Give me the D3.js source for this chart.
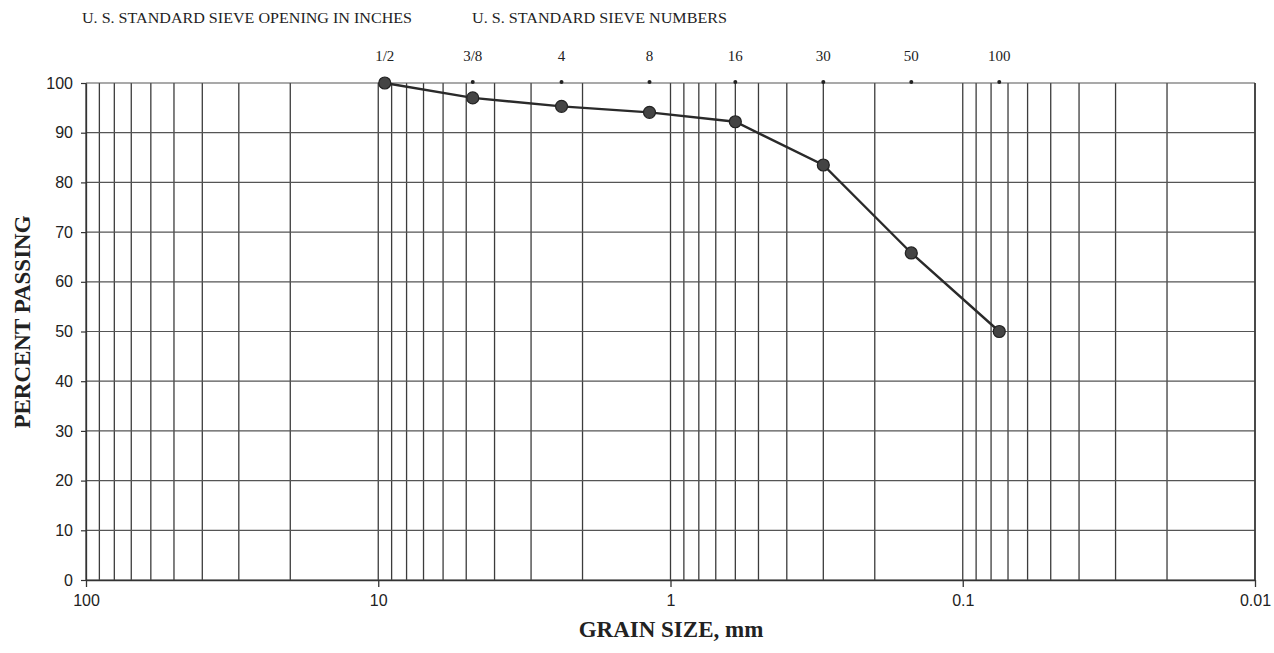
<!DOCTYPE html>
<html>
<head>
<meta charset="utf-8">
<script src="https://cdn.jsdelivr.net/npm/d3@7"></script>
<style>
  html, body { margin: 0; padding: 0; background: #fff; }
  svg { display: block; }
</style>
</head>
<body>
<svg id="chart" width="1274" height="653"></svg>
<script>
// ---- data ----
const grainSizes = [9.5, 4.75, 2.36, 1.18, 0.6, 0.3, 0.15, 0.075];   // mm
const percentPassing = [100, 97, 95.3, 94.1, 92.2, 83.5, 65.8, 50];
const sieveLabels = ["1/2", "3/8", "4", "8", "16", "30", "50", "100"];
const sieveMarkSizes = [4.75, 2.36, 1.18, 0.6, 0.3, 0.15, 0.075];
const xTickValues = [100, 10, 1, 0.1, 0.01];
const xTickLabels = ["100", "10", "1", "0.1", "0.01"];
const yTickValues = [0, 10, 20, 30, 40, 50, 60, 70, 80, 90, 100];

const svg = d3.select("#chart");
const x = d3.scaleLog().domain([100, 0.01]).range([86, 1255]);
const y = d3.scaleLinear().domain([0, 100]).range([580, 83]);

const gridColor = "#3c3c3c";
const serif = "'Liberation Serif', 'Times New Roman', serif";
const sans = "'Liberation Sans', Arial, sans-serif";

// vertical log grid
svg.append("g").selectAll("line")
  .data(x.ticks())
  .join("line")
  .attr("x1", d => x(d)).attr("x2", d => x(d))
  .attr("y1", y(100)).attr("y2", y(0))
  .attr("stroke", gridColor).attr("stroke-width", 1.3);

// horizontal grid
svg.append("g").selectAll("line")
  .data(yTickValues)
  .join("line")
  .attr("x1", x(100)).attr("x2", x(0.01))
  .attr("y1", d => y(d)).attr("y2", d => y(d))
  .attr("stroke", "#555").attr("stroke-width", 1.2);

// x axis
const xAxis = svg.append("g")
  .attr("transform", `translate(0,${y(0)})`)
  .call(d3.axisBottom(x).tickValues(xTickValues)
    .tickFormat((d, i) => xTickLabels[i]).tickSize(7).tickSizeOuter(0));
xAxis.select(".domain").attr("stroke", "#333").attr("stroke-width", 1.3);
xAxis.selectAll(".tick line").attr("stroke", "#333").attr("stroke-width", 1.3);
xAxis.selectAll("text").attr("font-family", sans).attr("font-size", 16)
  .attr("fill", "#222").attr("y", 15).attr("dy", "0.71em");

// y axis
const yAxis = svg.append("g")
  .attr("transform", `translate(${x(100)},0)`)
  .call(d3.axisLeft(y).tickValues(yTickValues).tickSize(5).tickSizeOuter(0));
yAxis.select(".domain").attr("stroke", "#333").attr("stroke-width", 1.3);
yAxis.selectAll(".tick line").attr("stroke", "#333").attr("stroke-width", 1.2);
yAxis.selectAll("text").attr("font-family", sans).attr("font-size", 16)
  .attr("fill", "#222").attr("x", -13);

// header texts
svg.append("text").attr("x", 82).attr("y", 23)
  .attr("font-family", serif).attr("font-size", 15).attr("fill", "#222")
  .attr("textLength", 330).attr("lengthAdjust", "spacingAndGlyphs")
  .text("U. S. STANDARD SIEVE OPENING IN INCHES");
svg.append("text").attr("x", 472).attr("y", 23)
  .attr("font-family", serif).attr("font-size", 15).attr("fill", "#222")
  .attr("textLength", 255).attr("lengthAdjust", "spacingAndGlyphs")
  .text("U. S. STANDARD SIEVE NUMBERS");

// sieve labels
svg.append("g").selectAll("text")
  .data(sieveLabels)
  .join("text")
  .attr("x", (d, i) => x(grainSizes[i]))
  .attr("y", 61)
  .attr("text-anchor", "middle")
  .attr("font-family", serif).attr("font-size", 15).attr("fill", "#222")
  .text(d => d);

// sieve marks at top
svg.append("g").selectAll("circle")
  .data(sieveMarkSizes)
  .join("circle")
  .attr("cx", d => x(d)).attr("cy", y(100) - 1)
  .attr("r", 2).attr("fill", "#222");

// right border
svg.append("line")
  .attr("x1", x(0.01)).attr("x2", x(0.01))
  .attr("y1", y(100)).attr("y2", y(0))
  .attr("stroke", "#333").attr("stroke-width", 1.4);

// gradation curve
const pts = grainSizes.map((s, i) => [s, percentPassing[i]]);
svg.append("path")
  .datum(pts)
  .attr("fill", "none").attr("stroke", "#2a2a2a").attr("stroke-width", 2.4)
  .attr("d", d3.line().x(d => x(d[0])).y(d => y(d[1])));

svg.append("g").selectAll("circle")
  .data(pts)
  .join("circle")
  .attr("cx", d => x(d[0])).attr("cy", d => y(d[1]))
  .attr("r", 6)
  .attr("fill", "#444").attr("stroke", "#222").attr("stroke-width", 1.2);

// axis titles
svg.append("text")
  .attr("transform", `translate(30,322) rotate(-90)`)
  .attr("text-anchor", "middle")
  .attr("font-family", serif).attr("font-weight", "bold").attr("font-size", 23)
  .attr("fill", "#222")
  .text("PERCENT PASSING");
svg.append("text")
  .attr("x", 671).attr("y", 637)
  .attr("text-anchor", "middle")
  .attr("font-family", serif).attr("font-weight", "bold").attr("font-size", 23)
  .attr("fill", "#222")
  .text("GRAIN SIZE, mm");
</script>
</body>
</html>
